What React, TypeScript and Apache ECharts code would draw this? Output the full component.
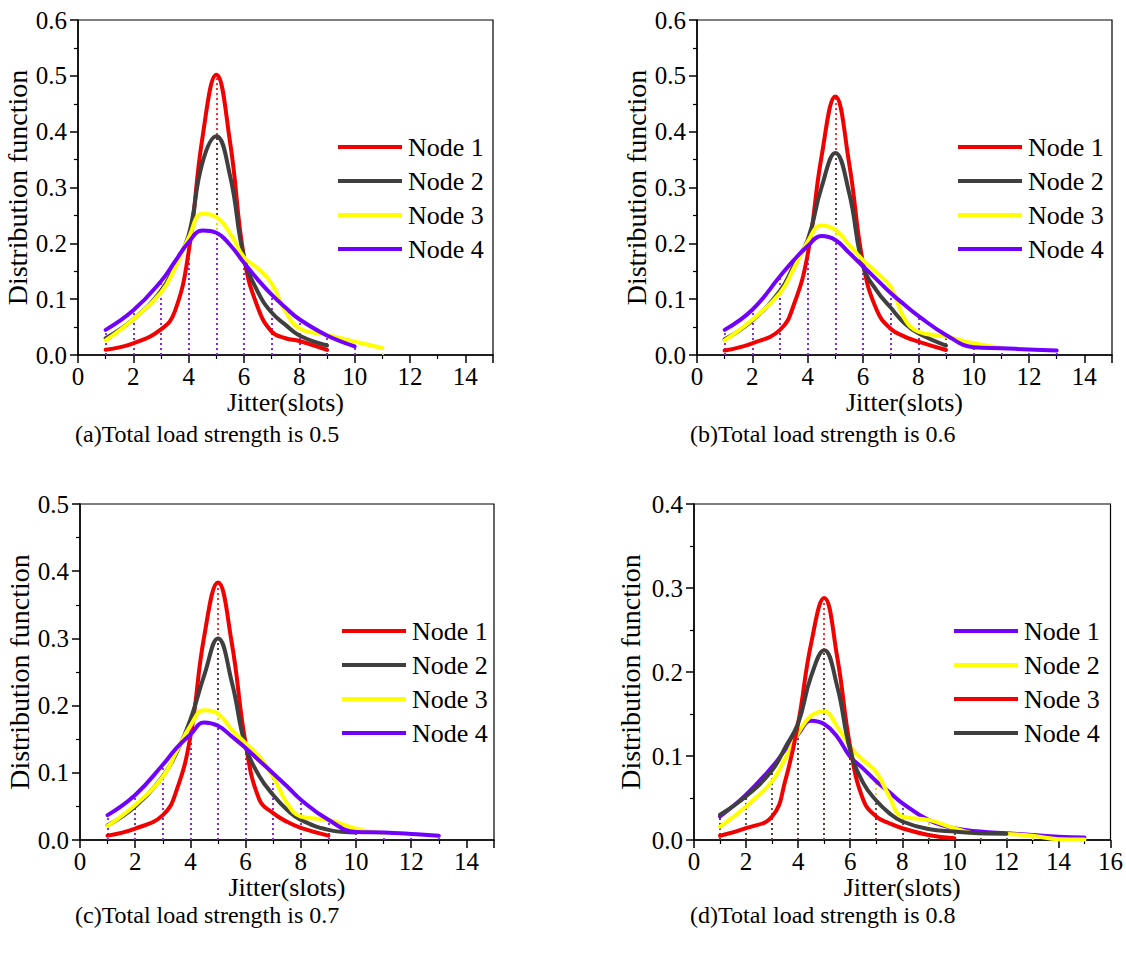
import React, { useEffect, useRef } from 'react';
import * as echarts from 'echarts';

// ---------- data ----------
// sample positions (jitter, slots) at which the curves were read
const X_STEPS = [1, 2, 3, 3.5, 4, 4.5, 5, 5.5, 6, 6.5, 7, 7.5, 8, 9, 10, 11, 12, 13, 14, 15];

const NODE_NAMES = ['Node 1', 'Node 2', 'Node 3', 'Node 4'];
const LOAD_STRENGTHS = ['0.5', '0.6', '0.7', '0.8'];
const PANEL_TAGS = ['(a)', '(b)', '(c)', '(d)'];
const X_MAX = [15, 15, 15, 16];
const Y_MAX = [0.6, 0.6, 0.5, 0.4];

// (a) total load strength 0.5
const A_NODE1 = [0.0095, 0.021, 0.046, 0.078, 0.185, 0.39, 0.502, 0.38, 0.175, 0.085, 0.042, 0.03, 0.025, 0.009];
const A_NODE2 = [0.03, 0.064, 0.115, 0.16, 0.215, 0.345, 0.392, 0.32, 0.175, 0.113, 0.076, 0.054, 0.035, 0.017];
const A_NODE3 = [0.026, 0.064, 0.112, 0.155, 0.21, 0.253, 0.247, 0.218, 0.175, 0.155, 0.128, 0.078, 0.048, 0.036, 0.024, 0.0125];
const A_NODE4 = [0.045, 0.08, 0.132, 0.167, 0.202, 0.223, 0.219, 0.197, 0.165, 0.135, 0.108, 0.085, 0.064, 0.035, 0.0155];

// (b) total load strength 0.6
const B_NODE1 = [0.008, 0.021, 0.045, 0.09, 0.18, 0.355, 0.463, 0.343, 0.165, 0.08, 0.047, 0.033, 0.024, 0.009];
const B_NODE2 = [0.028, 0.062, 0.115, 0.16, 0.206, 0.3, 0.362, 0.29, 0.159, 0.115, 0.085, 0.057, 0.039, 0.017];
const B_NODE3 = [0.026, 0.063, 0.111, 0.155, 0.203, 0.232, 0.224, 0.197, 0.17, 0.147, 0.122, 0.065, 0.042, 0.033, 0.021, 0.013];
const B_NODE4 = [0.045, 0.081, 0.141, 0.17, 0.195, 0.213, 0.206, 0.183, 0.159, 0.135, 0.111, 0.09, 0.07, 0.036, 0.014, 0.012, 0.01, 0.008];

// (c) total load strength 0.7
const C_NODE1 = [0.0065, 0.017, 0.037, 0.074, 0.154, 0.303, 0.383, 0.293, 0.144, 0.06, 0.04, 0.027, 0.018, 0.0065];
const C_NODE2 = [0.022, 0.05, 0.095, 0.13, 0.179, 0.245, 0.3, 0.235, 0.139, 0.095, 0.067, 0.045, 0.03, 0.015, 0.011];
const C_NODE3 = [0.021, 0.052, 0.094, 0.132, 0.17, 0.193, 0.188, 0.164, 0.144, 0.124, 0.094, 0.055, 0.035, 0.03, 0.017, 0.01];
const C_NODE4 = [0.037, 0.067, 0.112, 0.137, 0.157, 0.175, 0.17, 0.154, 0.137, 0.118, 0.099, 0.08, 0.06, 0.03, 0.012, 0.011, 0.009, 0.0065];

// (d) total load strength 0.8
const D_NODE1 = [0.028, 0.054, 0.087, 0.107, 0.126, 0.142, 0.138, 0.123, 0.099, 0.085, 0.07, 0.057, 0.044, 0.024, 0.014, 0.01, 0.008, 0.006, 0.004, 0.003];
const D_NODE2 = [0.016, 0.04, 0.07, 0.097, 0.127, 0.148, 0.153, 0.135, 0.111, 0.095, 0.081, 0.052, 0.028, 0.024, 0.014, 0.007, 0.007, 0.005, 0.001, 0.0005];
const D_NODE3 = [0.005, 0.014, 0.028, 0.07, 0.139, 0.234, 0.288, 0.218, 0.111, 0.048, 0.028, 0.02, 0.014, 0.006, 0.002];
const D_NODE4 = [0.03, 0.052, 0.083, 0.11, 0.139, 0.195, 0.226, 0.183, 0.107, 0.068, 0.047, 0.032, 0.022, 0.013, 0.01, 0.008, 0.0075];

// ---------- styles ----------
const RED = '#f20000';
const GRAY = '#3f3f3f';
const YELLOW = '#ffff00';
const PURPLE = '#7200ff';
const FONT = '"Liberation Serif", "Times New Roman", "DejaVu Serif", serif';

const PANELS = [
  {
    values: [A_NODE1, A_NODE2, A_NODE3, A_NODE4],
    colors: [RED, GRAY, YELLOW, PURPLE],
    grid: { left: 78, top: 20, width: 415, height: 335 },
    yNameGap: 42,
    xNameGap: 33,
    legend: { left: 338, top: 134 },
    caption: { x: 75, y: 434 },
  },
  {
    values: [B_NODE1, B_NODE2, B_NODE3, B_NODE4],
    colors: [RED, GRAY, YELLOW, PURPLE],
    grid: { left: 697, top: 20, width: 415, height: 335 },
    yNameGap: 41,
    xNameGap: 33,
    legend: { left: 958, top: 134 },
    caption: { x: 690, y: 434 },
  },
  {
    values: [C_NODE1, C_NODE2, C_NODE3, C_NODE4],
    colors: [RED, GRAY, YELLOW, PURPLE],
    grid: { left: 80, top: 504, width: 414, height: 336 },
    yNameGap: 47,
    xNameGap: 29,
    legend: { left: 342, top: 618 },
    caption: { x: 75, y: 915 },
  },
  {
    values: [D_NODE1, D_NODE2, D_NODE3, D_NODE4],
    colors: [PURPLE, YELLOW, RED, GRAY],
    grid: { left: 694, top: 504, width: 418, height: 336 },
    yNameGap: 50,
    xNameGap: 29,
    legend: { left: 954, top: 618 },
    caption: { x: 690, y: 915 },
  },
];

function buildOption() {
  const grid: any[] = [];
  const xAxis: any[] = [];
  const yAxis: any[] = [];
  const series: any[] = [];
  const legend: any[] = [];
  const graphic: any[] = [];

  PANELS.forEach((p, i) => {
    grid.push({ ...p.grid, show: true, borderColor: '#000', borderWidth: 1.2, backgroundColor: 'transparent' });
    xAxis.push({
      type: 'value',
      gridIndex: i,
      min: 0,
      max: X_MAX[i],
      interval: 2,
      name: 'Jitter(slots)',
      nameLocation: 'middle',
      nameGap: p.xNameGap,
      nameTextStyle: { fontFamily: FONT, fontSize: 26, color: '#000', lineHeight: 26 },
      axisLine: { show: true, lineStyle: { color: '#000', width: 1.5 } },
      axisTick: { show: true, inside: false, length: 8, lineStyle: { color: '#000', width: 1.5 } },
      minorTick: { show: true, splitNumber: 2, length: 4, lineStyle: { color: '#000', width: 1.2 } },
      splitLine: { show: false },
      minorSplitLine: { show: false },
      axisLabel: {
        fontFamily: FONT,
        fontSize: 25,
        color: '#000',
        margin: 9,
        showMaxLabel: X_MAX[i] % 2 === 0,
      },
    });
    yAxis.push({
      type: 'value',
      gridIndex: i,
      min: 0,
      max: Y_MAX[i],
      interval: 0.1,
      name: 'Distribution function',
      nameLocation: 'middle',
      nameGap: p.yNameGap,
      nameTextStyle: { fontFamily: FONT, fontSize: 28, color: '#000' },
      axisLine: { show: true, lineStyle: { color: '#000', width: 1.5 } },
      axisTick: { show: true, inside: false, length: 8, lineStyle: { color: '#000', width: 1.5 } },
      minorTick: { show: true, splitNumber: 2, length: 4, lineStyle: { color: '#000', width: 1.2 } },
      splitLine: { show: false },
      minorSplitLine: { show: false },
      axisLabel: {
        fontFamily: FONT,
        fontSize: 25,
        color: '#000',
        margin: 11,
        formatter: (v: number) => v.toFixed(1),
      },
    });

    p.values.forEach((vals, k) => {
      const color = p.colors[k];
      const pts = vals.map((v, j) => [X_STEPS[j], v]);
      const drops = pts
        .filter((pt) => Number.isInteger(pt[0]))
        .map((pt) => [{ coord: [pt[0], 0] }, { coord: [pt[0], pt[1]] }]);
      series.push({
        type: 'line',
        name: NODE_NAMES[k],
        xAxisIndex: i,
        yAxisIndex: i,
        data: pts,
        smooth: 0.45,
        symbol: 'none',
        showSymbol: false,
        z: 3,
        lineStyle: { color, width: 4, cap: 'round', join: 'round' },
        itemStyle: { color },
        emphasis: { disabled: true },
        markLine: {
          silent: true,
          z: 1,
          symbol: ['none', 'none'],
          label: { show: false },
          emphasis: { disabled: true },
          lineStyle: { color, type: [2, 3], width: 1.6, opacity: 1 },
          data: drops,
        },
      });
    });

    legend.push({
      left: p.legend.left,
      top: p.legend.top,
      orient: 'vertical',
      icon: 'rect',
      itemWidth: 64,
      itemHeight: 4,
      itemGap: 8,
      padding: 0,
      selectedMode: false,
      textStyle: { fontFamily: FONT, fontSize: 26, color: '#000', padding: [0, 0, 0, 1] },
      data: NODE_NAMES.map((n, k) => ({
        name: n,
        itemStyle: { color: p.colors[k] },
      })),
    });

    graphic.push({
      type: 'text',
      x: p.caption.x,
      y: p.caption.y,
      style: {
        text: `${PANEL_TAGS[i]}Total load strength is ${LOAD_STRENGTHS[i]}`,
        fontFamily: FONT,
        fontSize: 24,
        fill: '#000',
        verticalAlign: 'middle',
      },
    });
  });

  return {
    animation: false,
    backgroundColor: '#fff',
    grid,
    xAxis,
    yAxis,
    series,
    legend,
    graphic,
  };
}

export default function App() {
  const ref = useRef<HTMLDivElement>(null);
  useEffect(() => {
    if (!ref.current) return;
    const chart = echarts.init(ref.current, undefined, { renderer: 'svg' });
    chart.setOption(buildOption() as any);
    return () => chart.dispose();
  }, []);
  return (
    <div
      ref={ref}
      style={{ position: 'fixed', left: 0, top: 0, width: 1126, height: 956, background: '#fff' }}
    />
  );
}
